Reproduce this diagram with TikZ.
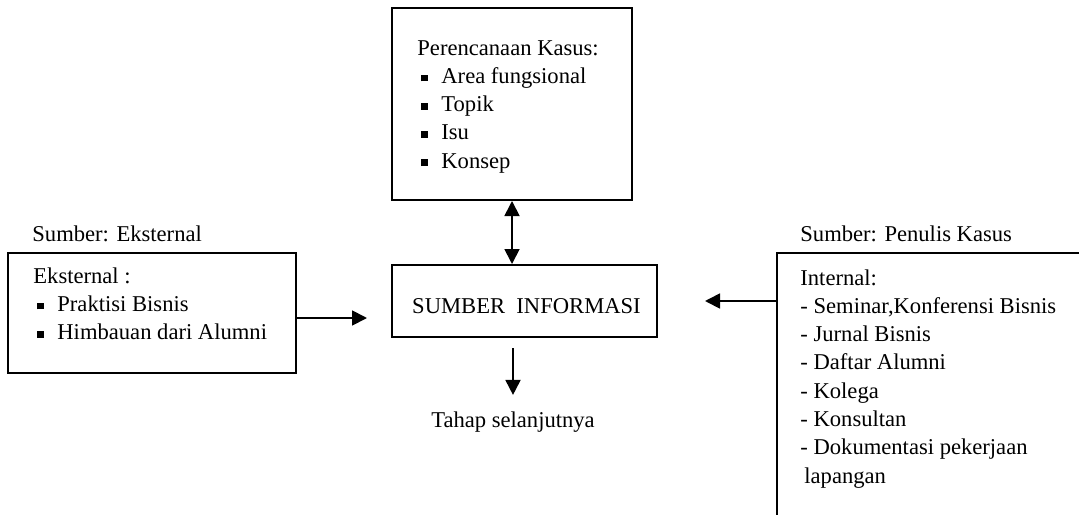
\documentclass[tikz,border=0pt]{standalone}
\usepackage{fontspec}
\setmainfont{Liberation Serif}
\usetikzlibrary{arrows.meta}

\newcommand{\bul}{\hspace*{2pt}\rule[1pt]{3.4pt}{3.4pt}\hspace*{6.6pt}}

\begin{document}
\begin{tikzpicture}[x=0.5pt,y=-0.5pt,
  >={Triangle[length=7.5pt,width=7.5pt]},
  box/.style={draw,line width=1pt,inner sep=0pt},
  txt/.style={inner sep=0pt,anchor=base west,font=\fontsize{11.3}{14.15}\selectfont},
  arr/.style={line width=0.9pt,->}]
\useasboundingbox (0,0) rectangle (1079,514);
\clip (0,0) rectangle (1079,514);

\node[box,minimum width=120pt,minimum height=96pt] (plan) at (512,104) {};
\node[box,minimum width=132.5pt,minimum height=36pt] (info) at (524.5,301) {};
\node[box,minimum width=144pt,minimum height=60pt] (ext) at (152,313) {};
\node[box,minimum width=161.5pt,minimum height=143.5pt] (int) at (938.5,396.5) {};

\node[txt] (plantxt) at (417,55) {\begin{tabular}[t]{@{}l@{}}Perencanaan Kasus:\\ \bul Area fungsional\\ \bul Topik\\ \bul Isu\\ \bul Konsep\end{tabular}};
\node[txt,anchor=base] (infotxt) at (526.5,313) {SUMBER\ \ INFORMASI};
\node[txt,anchor=base] (next) at (513,427) {Tahap selanjutnya};
\node[txt] (srcext) at (32,241) {Sumber: Eksternal};
\node[txt] (srcint) at (800,241) {Sumber: Penulis Kasus};
\node[txt] (exttxt) at (33,283) {\begin{tabular}[t]{@{}l@{}}Eksternal :\\ \bul Praktisi Bisnis\\ \bul Himbauan dari Alumni\end{tabular}};
\node[txt] (inttxt) at (800,285) {\begin{tabular}[t]{@{}l@{}}Internal:\\ - Seminar,Konferensi Bisnis\\ - Jurnal Bisnis\\ - Daftar Alumni\\ - Kolega\\ - Konsultan\\ - Dokumentasi pekerjaan\\ \hspace*{2pt}lapangan\end{tabular}};

\coordinate (lin) at (367,318);
\coordinate (rin) at (705,301);
\coordinate (dout) at (513,348);

\draw[arr,<->] (plan.south) -- (plan.south |- info.north);
\draw[arr] (ext.east |- lin) -- (lin);
\draw[arr] (int.west |- rin) -- (rin);
\draw[arr,shorten >=8pt] (dout) -- (next.north);

\end{tikzpicture}
\end{document}
